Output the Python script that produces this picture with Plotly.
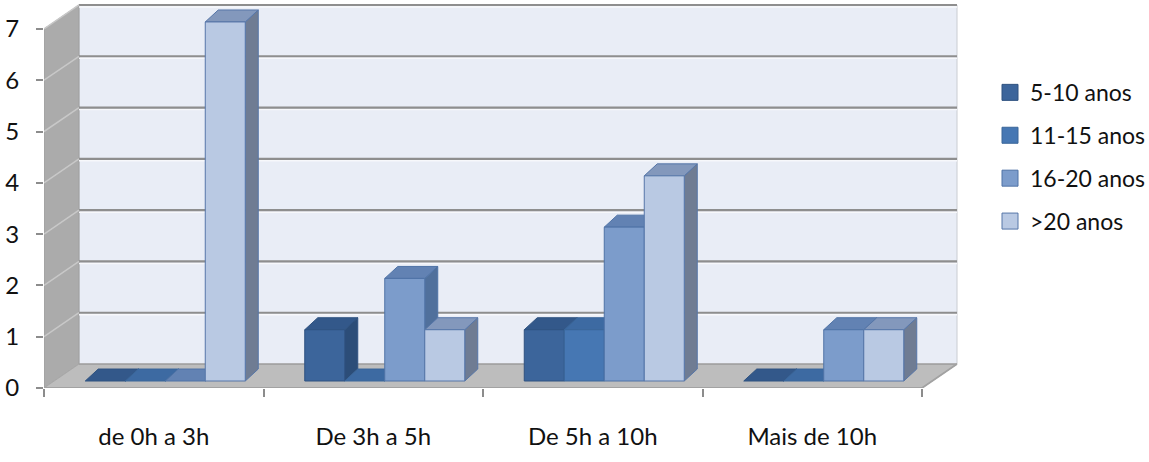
import plotly.graph_objects as go

# ---------------- data ----------------
categories = ["de 0h a 3h", "De 3h a 5h", "De 5h a 10h", "Mais de 10h"]
series_names = ["5-10 anos", "11-15 anos", "16-20 anos", ">20 anos"]
s_5_10 = [0, 1, 1, 0]
s_11_15 = [0, 0, 1, 0]
s_16_20 = [0, 2, 3, 1]
s_gt20 = [7, 1, 4, 1]
y_ticks = [0, 1, 2, 3, 4, 5, 6, 7]

series_values = [s_5_10, s_11_15, s_16_20, s_gt20]

# ---------------- styles ----------------
front_colors = ["#3C659B", "#4677B3", "#7C9CCB", "#B9C9E3"]
top_colors = ["#33588A", "#3D6AA2", "#6282B3", "#8398BC"]
side_colors = ["#2C4D78", "#345C8E", "#50709C", "#6F7C93"]
edge_colors = ["#2F5280", "#3A6699", "#4F73A6", "#5676A8"]

FONT = "Lato"
FS = 24
LEG_FS = 23
TXT = "#111111"

# geometry (pixel scale of the plot -> data units)
PX_X = 219.5
PX_Y = 51.36
DX = 35 / PX_X          # full depth of the floor/walls
DY = 24 / PX_Y
BAR_W = 40 / PX_X
GROUP_PAD = (1 - 4 * BAR_W) / 2
OX = 11.5 / PX_X        # bar front offset inside the floor
OY = 7 / PX_Y
BDX = 13 / PX_X         # bar depth
BDY = 12 / PX_Y

n_cat = len(categories)
X_MIN = -0.5
X_MAX = -0.5 + 916 / PX_X
Y_MAX = max(y_ticks)
Y_TOP = 384.5 / PX_Y

fig = go.Figure()

def poly(xs, ys, fill, line_color, width=1):
    fig.add_trace(go.Scatter(x=xs, y=ys, mode="lines", fill="toself",
                             fillcolor=fill, line=dict(color=line_color, width=width),
                             hoverinfo="skip", showlegend=False))

def lines(xs, ys, color, width):
    fig.add_trace(go.Scatter(x=xs, y=ys, mode="lines",
                             line=dict(color=color, width=width),
                             hoverinfo="skip", showlegend=False))

L = -0.5
R = n_cat - 0.5

# back wall
poly([L + DX, R + DX, R + DX, L + DX, L + DX],
     [DY, DY, Y_MAX + DY, Y_MAX + DY, DY], "#E9EDF6", "#C9CCD2", 1)
# left wall
poly([L, L + DX, L + DX, L, L], [0, DY, Y_MAX + DY, Y_MAX, 0],
     "#ABABAB", "#9E9E9E", 1)
# floor
poly([L, R, R + DX, L + DX, L], [0, 0, DY, DY, 0], "#BDBDBD", "#A8A8A8", 1)

# gridlines (back wall + left wall)
gx, gy, hx, hy, sx, sy = [], [], [], [], [], []
for v in y_ticks[1:]:
    gx += [L + DX, R + DX, None]
    gy += [v + DY, v + DY, None]
    hx += [L + DX, R + DX, None]
    hy += [v + DY - 2 / PX_Y, v + DY - 2 / PX_Y, None]
    sx += [L, L + DX, None]
    sy += [v, v + DY, None]
lines(hx, hy, "#F7F8FB", 1.5)
lines(gx, gy, "#8E8E8E", 2.2)
lines(sx, sy, "#C8C8C8", 1.5)
# back edge of floor & front edge of the floor
lines([L + DX, R + DX], [DY, DY], "#9E9E9E", 1.2)
lines([L, R, R + DX], [0, 0, DY], "#A2A2A2", 1.8)

# bars (pseudo 3-D)
for s, vals in enumerate(series_values):
    side_x, side_y, top_x, top_y, fr_x, fr_y = [], [], [], [], [], []
    for i, v in enumerate(vals):
        x0 = i - 0.5 + GROUP_PAD + s * BAR_W + OX
        x1 = x0 + BAR_W
        yb = OY
        yt = OY + v
        side_x += [x1, x1 + BDX, x1 + BDX, x1, x1, None]
        side_y += [yb, yb + BDY, yt + BDY, yt, yb, None]
        top_x += [x0, x1, x1 + BDX, x0 + BDX, x0, None]
        top_y += [yt, yt, yt + BDY, yt + BDY, yt, None]
        if v > 0:
            fr_x += [x0, x1, x1, x0, x0, None]
            fr_y += [yb, yb, yt, yt, yb, None]
    poly(side_x, side_y, side_colors[s], edge_colors[s], 1)
    poly(top_x, top_y, top_colors[s], edge_colors[s], 1)
    if fr_x:
        poly(fr_x, fr_y, front_colors[s], edge_colors[s], 1)

# legend entries
for s, name in enumerate(series_names):
    fig.add_trace(go.Scatter(x=[None], y=[None], mode="markers", name=name,
                             legendgroup=name,
                             marker=dict(symbol="square", size=16,
                                         color=front_colors[s],
                                         line=dict(color=edge_colors[s], width=1))))

fig.update_layout(
    width=1149, height=462,
    margin=dict(l=44, r=1149 - 960, t=4, b=462 - 388.5, autoexpand=False),
    paper_bgcolor="white", plot_bgcolor="white",
    font=dict(family=FONT, size=FS, color=TXT),
    showlegend=True,
    legend=dict(x=(990 - 44) / 916, xanchor="left",
                y=(388.5 - 71) / 384.5, yanchor="top",
                font=dict(family=FONT, size=LEG_FS, color=TXT),
                tracegroupgap=10, bgcolor="rgba(0,0,0,0)"),
    xaxis=dict(range=[X_MIN, X_MAX], showgrid=False, zeroline=False,
               showline=False, tickmode="array",
               tickvals=list(range(n_cat)), ticktext=categories,
               ticks="", ticklabelstandoff=32,
               minor=dict(tickmode="array",
                          tickvals=[i - 0.5 for i in range(n_cat + 1)],
                          ticks="outside", ticklen=8, tickcolor="#8C8C8C",
                          tickwidth=1.5, showgrid=False),
               fixedrange=True),
    yaxis=dict(range=[0, Y_TOP], showgrid=False, zeroline=False,
               showline=False, tickmode="array", tickvals=y_ticks,
               ticks="outside", ticklen=7, tickcolor="#8C8C8C", tickwidth=1.5,
               ticklabelstandoff=12, fixedrange=True),
)

fig.write_html("out.html")
